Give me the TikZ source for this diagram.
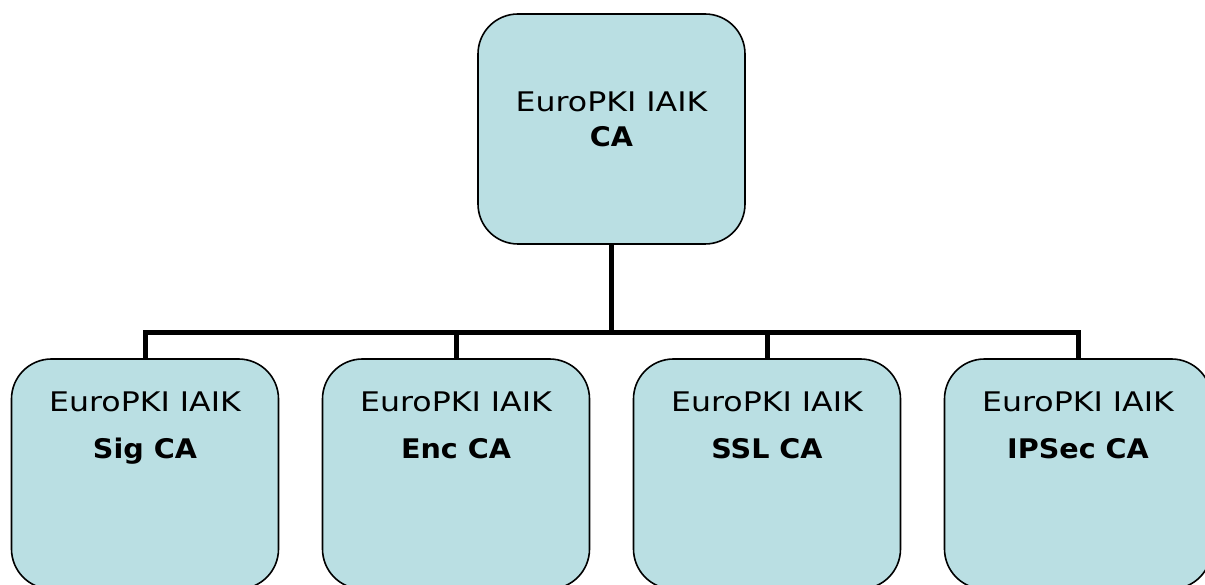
\documentclass[tikz,border=0pt]{standalone}
\usepackage{fontspec}
\setmainfont{DejaVu Sans}
\newfontfamily\regfont[FakeStretch=1.17]{DejaVu Sans}
\newfontfamily\boldfont[FakeStretch=1.06]{DejaVu Sans Bold}
\definecolor{boxfill}{RGB}{186,223,227}
\begin{document}
\begin{tikzpicture}[x=1pt,y=-1pt,
  cabox/.style={draw=black,line width=1.6pt,fill=boxfill,rounded corners=40pt,
    minimum width=267pt,minimum height=230pt,inner sep=0pt},
  txt/.style={anchor=base,inner sep=0pt,font=\regfont\fontsize{27}{30}\selectfont},
  btxt/.style={anchor=base,inner sep=0pt,font=\boldfont\fontsize{27}{30}\selectfont},
  conn/.style={line width=5pt}]
\useasboundingbox (0,0) rectangle (1205,585);
\clip (0,0) rectangle (1205,585);
\node[cabox] (root) at (611.5,129) {};
\node[cabox] (sig) at (145,474) {};
\node[cabox] (enc) at (456,474) {};
\node[cabox] (ssl) at (767,474) {};
\node[cabox] (ips) at (1078,474) {};
\node[txt] (t0) at (611.5,112) {EuroPKI IAIK};
\node[btxt] (b0) at (611.5,147) {CA};
\node[txt] (t1) at (145,411) {EuroPKI IAIK};
\node[btxt] (b1) at (145,458) {Sig CA};
\node[txt] (t2) at (456,411) {EuroPKI IAIK};
\node[btxt] (b2) at (456,458) {Enc CA};
\node[txt] (t3) at (767,411) {EuroPKI IAIK};
\node[btxt] (b3) at (767,458) {SSL CA};
\node[txt] (t4) at (1078,411) {EuroPKI IAIK};
\node[btxt] (b4) at (1078,458) {IPSec CA};
\coordinate (bar) at (611.5,333);
\draw[conn] (root.south) -- (bar);
\draw[conn] (sig.north) -- (sig.north |- bar) -- (ips.north |- bar) -- (ips.north);
\draw[conn] (enc.north) -- (enc.north |- bar);
\draw[conn] (ssl.north) -- (ssl.north |- bar);
\end{tikzpicture}
\end{document}
